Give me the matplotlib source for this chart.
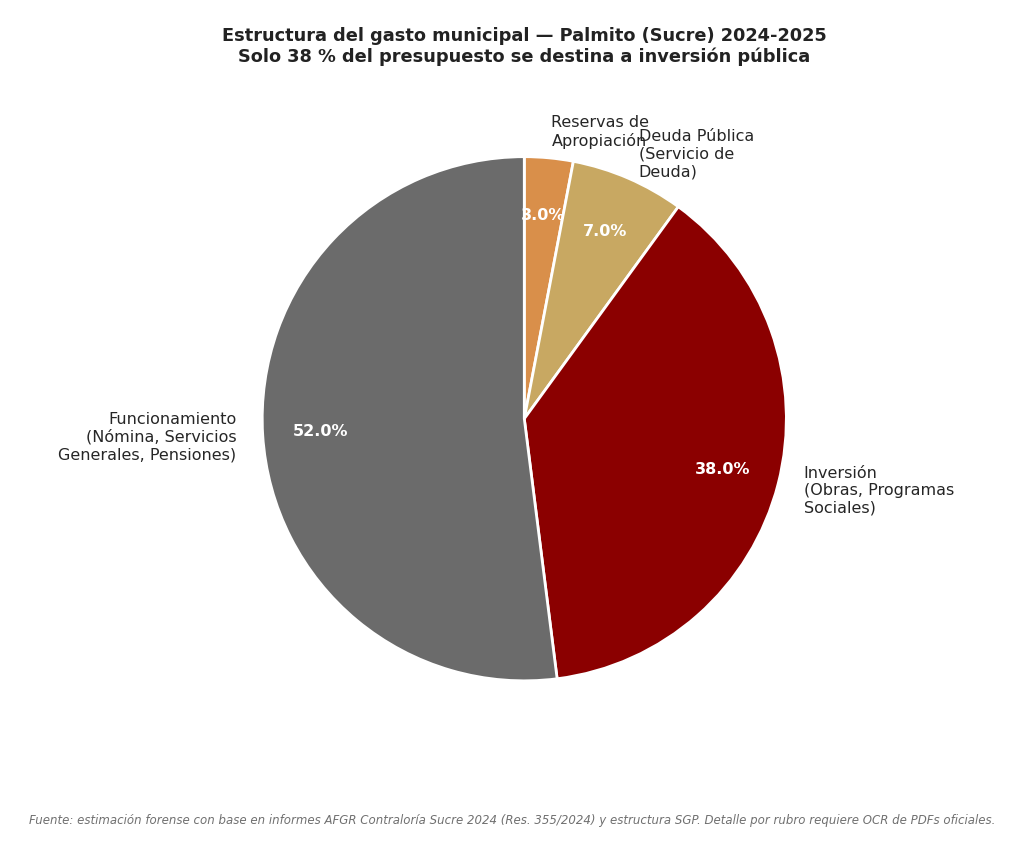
import matplotlib
matplotlib.use("Agg")
import matplotlib.pyplot as plt

# Spending structure (share of budget, %)
LABELS = [
    "Reservas de\nApropiación",
    "Deuda Pública\n(Servicio de\nDeuda)",
    "Inversión\n(Obras, Programas\nSociales)",
    "Funcionamiento\n(Nómina, Servicios\nGenerales, Pensiones)",
]
SHARES = [3.0, 7.0, 38.0, 52.0]
COLORS = ["#d98f4a", "#c8a862", "#8b0000", "#6b6b6b"]

TITLE = ("Estructura del gasto municipal — Palmito (Sucre) 2024-2025\n"
         "Solo 38 % del presupuesto se destina a inversión pública")
SOURCE = ("Fuente: estimación forense con base en informes AFGR Contraloría Sucre 2024 "
          "(Res. 355/2024) y estructura SGP. Detalle por rubro requiere OCR de PDFs oficiales.")

fig = plt.figure(figsize=(10.24, 8.52), dpi=100)
ax = fig.add_axes([0.192, 0.124, 0.640, 0.769])

wedges, texts, autotexts = ax.pie(
    SHARES,
    labels=LABELS,
    colors=COLORS,
    startangle=90,
    counterclock=False,
    autopct="%1.1f%%",
    pctdistance=0.78,
    labeldistance=1.1,
    wedgeprops=dict(edgecolor="white", linewidth=2),
    textprops=dict(fontsize=11.5, color="#262626"),
)
for t in autotexts:
    t.set_color("white")
    t.set_fontweight("bold")
    t.set_fontsize(11.5)
ax.set_aspect("equal")

ax.set_title(TITLE, fontsize=12.8, fontweight="bold", color="#222222", pad=21)
fig.text(0.5, 0.037, SOURCE, ha="center", va="center", fontsize=8.5,
         style="italic", color="#707070")

fig.savefig("out.png", dpi=100)
